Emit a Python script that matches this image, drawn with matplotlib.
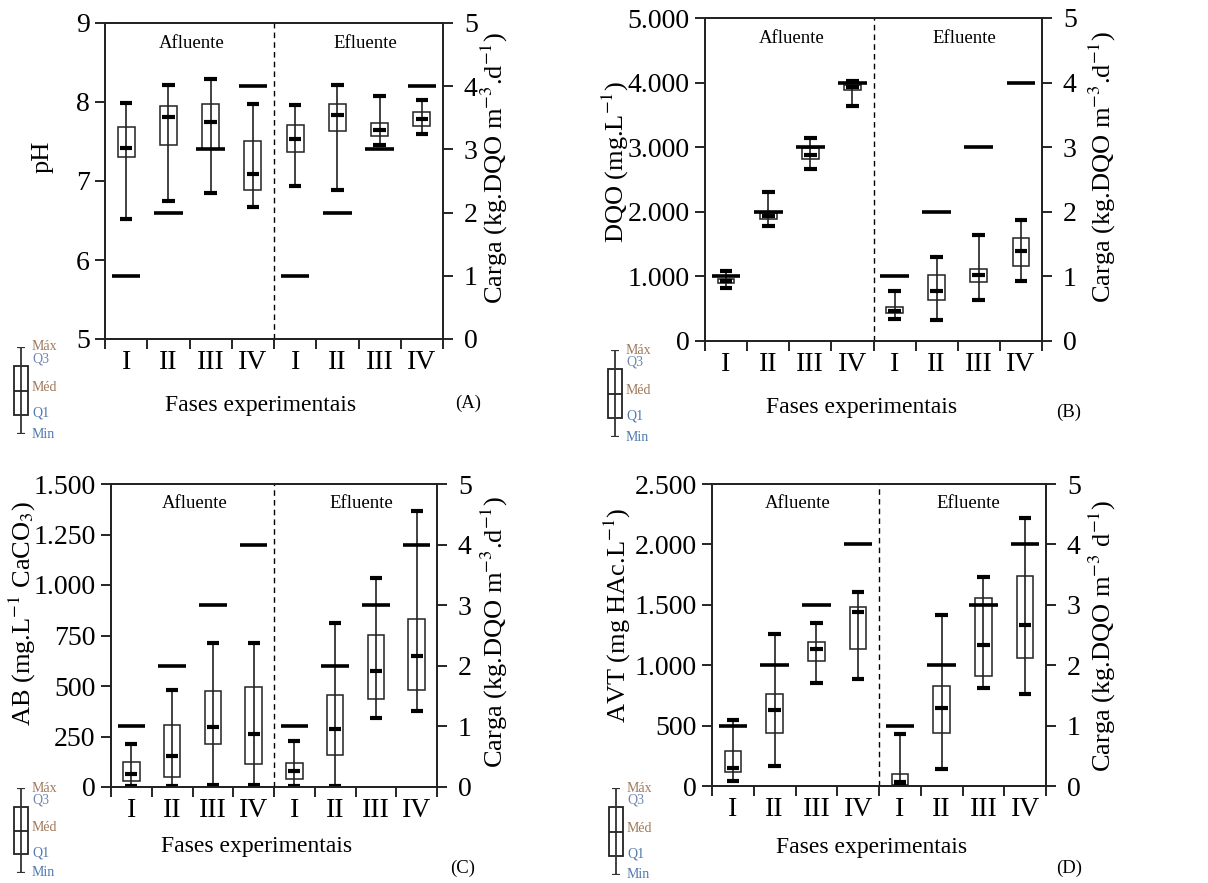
import matplotlib
matplotlib.use("Agg")
import matplotlib.pyplot as plt
import matplotlib.ticker as mtick
import numpy as np

plt.rcParams['font.family'] = ['Liberation Serif', 'DejaVu Serif']
plt.rcParams['mathtext.fontset'] = 'stix'

fases = ['I', 'II', 'III', 'IV', 'I', 'II', 'III', 'IV']
carga = [1, 2, 3, 4, 1, 2, 3, 4]

# pH
ph_min = [6.52, 6.75, 6.85, 6.67, 6.94, 6.89, 7.46, 7.59]
ph_q1 = [7.30, 7.45, 7.41, 6.88, 7.37, 7.63, 7.57, 7.70]
ph_med = [7.42, 7.81, 7.75, 7.09, 7.53, 7.84, 7.64, 7.79]
ph_q3 = [7.68, 7.95, 7.98, 7.50, 7.71, 7.97, 7.74, 7.87]
ph_max = [7.99, 8.21, 8.29, 7.97, 7.96, 8.22, 8.08, 8.02]

# DQO
dqo_min = [820, 1775, 2660, 3640, 340, 330, 640, 925]
dqo_q1 = [900, 1895, 2810, 3880, 435, 630, 915, 1155]
dqo_med = [935, 1940, 2885, 3930, 470, 780, 1025, 1400]
dqo_q3 = [960, 1980, 2990, 3970, 525, 1025, 1115, 1595]
dqo_max = [1090, 2300, 3150, 4030, 780, 1295, 1640, 1880]

# AB
ab_min = [3, 3, 12, 12, 3, 3, 341, 374]
ab_q1 = [28, 48, 215, 114, 40, 157, 437, 480]
ab_med = [63, 152, 296, 261, 78, 286, 574, 647]
ab_q3 = [122, 309, 473, 493, 121, 455, 754, 832]
ab_max = [215, 480, 713, 713, 227, 812, 1035, 1366]

# AVT
avt_min = [44, 163, 849, 888, 3, 144, 810, 758]
avt_q1 = [113, 440, 1032, 1131, 11, 440, 910, 1056]
avt_med = [152, 633, 1131, 1438, 33, 642, 1164, 1330]
avt_q3 = [290, 760, 1195, 1480, 102, 830, 1560, 1742]
avt_max = [550, 1258, 1350, 1610, 434, 1416, 1731, 2218]

key_labels = ['Min', 'Q1', 'Méd', 'Q3', 'Máx']
key_colors = ['#4f78b0', '#4f78b0', '#a0785a', '#6f86b0', '#a0785a']

W, H = 1208, 883


def dotfmt(v, pos):
    return f"{v:,.0f}".replace(",", ".")


def panel(rect, mins, q1, med, q3, maxs, ylim, step, ylabel, cargalabel,
          letter, lab_pos, carga_pos, xlab_pos, letter_pos, fmt=None):
    ax = plt.figure(1).add_axes(rect)
    x = np.arange(len(fases)) + 0.5
    ax.vlines(x, mins, maxs, color='#333333', lw=1.3, zorder=2)
    ax.bar(x, np.array(q3) - np.array(q1), bottom=q1, width=0.4, fill=False,
           edgecolor='#222222', lw=1.1, zorder=3)
    ax.hlines(mins, x - 0.15, x + 0.15, color='black', lw=3, zorder=4)
    ax.hlines(maxs, x - 0.15, x + 0.15, color='black', lw=3, zorder=4)
    ax.hlines(med, x - 0.15, x + 0.15, color='black', lw=3, zorder=4)
    ax.axvline(4, color='black', lw=1, ls=(0, (4, 3)))
    ax.set_xlim(0, 8)
    ax.set_ylim(*ylim)
    ax.set_yticks(np.arange(ylim[0], ylim[1] + step / 2, step))
    if fmt is not None:
        ax.yaxis.set_major_formatter(mtick.FuncFormatter(fmt))
    ax.set_xticks(np.arange(0, 9))
    ax.set_xticklabels([])
    ax.set_xticks(x, minor=True)
    ax.set_xticklabels(fases, minor=True)
    ax.tick_params(axis='x', which='major', direction='out', length=7, width=1.2)
    ax.tick_params(axis='x', which='minor', length=0, pad=8, labelsize=20)
    ax.tick_params(axis='y', direction='out', length=7, width=1.2, pad=4, labelsize=20)
    for s in ax.spines.values():
        s.set_linewidth(1.3)
        s.set_color('#222222')
    ax.text(2.05, 0.935, 'Afluente', transform=ax.get_xaxis_transform(),
            ha='center', va='center', fontsize=13.5)
    ax.text(6.15, 0.935, 'Efluente', transform=ax.get_xaxis_transform(),
            ha='center', va='center', fontsize=13.5)
    ax.set_ylabel(ylabel, fontsize=19)
    ax.yaxis.set_label_coords(*lab_pos)
    ax.yaxis.label.set_va('center')
    ax.set_xlabel('Fases experimentais', fontsize=17)
    ax.xaxis.set_label_coords(*xlab_pos)
    ax.xaxis.label.set_va('center')
    ax.text(letter_pos[0], letter_pos[1], letter, transform=ax.transAxes,
            ha='center', va='center', fontsize=13.5)

    ax2 = ax.twinx()
    ax2.hlines(carga, x - 0.34, x + 0.34, color='black', lw=2.6, zorder=5)
    ax2.set_ylim(0, 5)
    ax2.set_yticks(range(0, 6))
    ax2.tick_params(axis='y', direction='out', length=7, width=1.2, pad=8, labelsize=20)
    ax2.set_ylabel(cargalabel, fontsize=19)
    ax2.yaxis.set_label_coords(*carga_pos)
    ax2.yaxis.label.set_va('center')
    for s in ax2.spines.values():
        s.set_linewidth(1.3)
        s.set_color('#222222')
    return ax


def key(cx, top, bottom):
    # small box-plot key drawn in its own axes (pixel units)
    kax = plt.figure(1).add_axes([(cx - 15) / W, 1 - bottom / H, 60 / W, (bottom - top) / H])
    kax.set_xlim(-15, 45)
    kax.set_ylim(0, 1)
    kax.axis('off')
    kvals = [0, 0.22, 0.5, 0.78, 1.0]
    kax.vlines(0, kvals[0], kvals[4], color='#333333', lw=1.3)
    kax.hlines([kvals[0], kvals[4]], -4, 4, color='#333333', lw=1.6)
    kax.bar(0, kvals[3] - kvals[1], bottom=kvals[1], width=14, fill=False,
            edgecolor='#222222', lw=1.3)
    kax.hlines(kvals[2], -7, 7, color='#222222', lw=1.3)
    lpos = [0, 0.24, 0.53, 0.86, 1.0]
    for lab, yy, c in zip(key_labels, lpos, key_colors):
        kax.text(11, yy, lab, color=c, fontsize=10, ha='left', va='center')


fig = plt.figure(1, figsize=(W / 100, H / 100), dpi=100)

cg = 'Carga (kg.DQO m$^{-3}$.d$^{-1}$)'

panel([105 / W, 1 - 339 / H, 338 / W, 316 / H], ph_min, ph_q1, ph_med, ph_q3, ph_max,
      (5, 9), 1, 'pH', cg, '(A)', (-0.186, 0.576), (1.151, 0.54),
      (0.459, -0.209), (1.074, -0.203))
panel([705 / W, 1 - 341 / H, 337 / W, 323 / H], dqo_min, dqo_q1, dqo_med, dqo_q3, dqo_max,
      (0, 5000), 1000, 'DQO (mg.L$^{-1}$)', cg, '(B)', (-0.267, 0.554), (1.178, 0.539),
      (0.466, -0.207), (1.080, -0.22), fmt=dotfmt)
panel([111 / W, 1 - 787 / H, 326 / W, 303 / H], ab_min, ab_q1, ab_med, ab_q3, ab_max,
      (0, 1500), 250, 'AB (mg.L$^{-1}$ CaCO$_3$)', cg, '(C)', (-0.273, 0.574), (1.175, 0.51),
      (0.448, -0.198), (1.08, -0.267), fmt=dotfmt)
panel([712 / W, 1 - 786 / H, 334 / W, 302 / H], avt_min, avt_q1, avt_med, avt_q3, avt_max,
      (0, 2500), 500, 'AVT (mg HAc.L$^{-1}$)', 'Carga (kg.DQO m$^{-3}$ d$^{-1}$)', '(D)',
      (-0.284, 0.566), (1.168, 0.497), (0.479, -0.202), (1.069, -0.272), fmt=dotfmt)

key(21, 347, 434)
key(615, 350, 437)
key(21, 788, 873)
key(616, 788, 875)

fig.savefig('out.png', dpi=100)
